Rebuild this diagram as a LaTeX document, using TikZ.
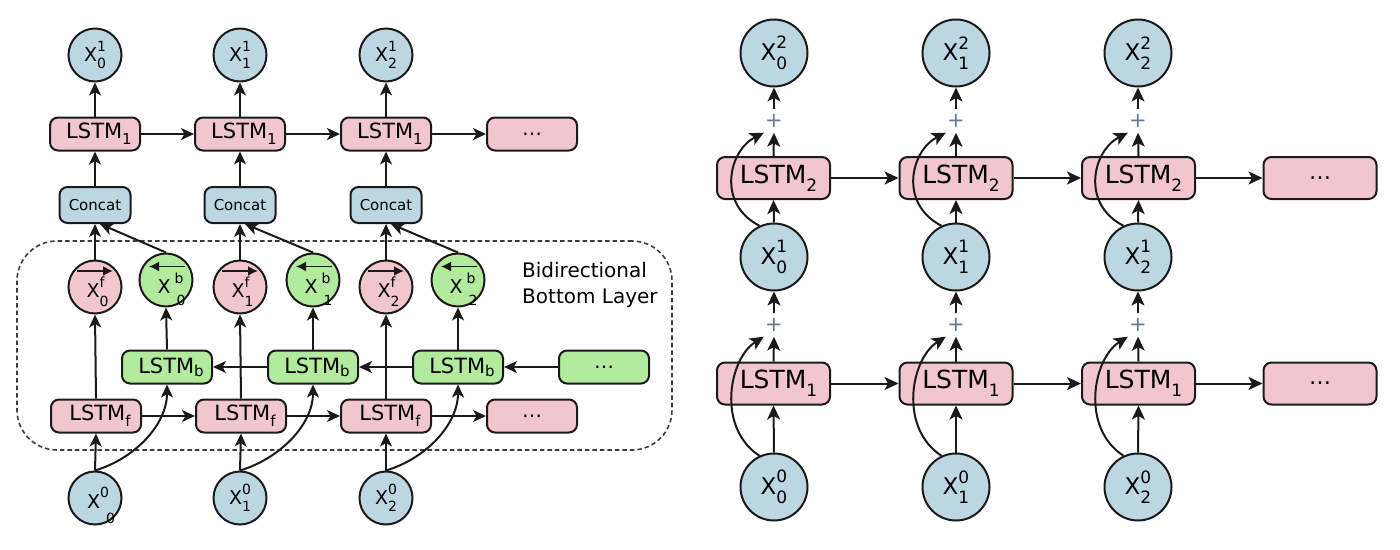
\documentclass[tikz,border=0pt]{standalone}
\usepackage{fontspec}
\setmainfont{DejaVu Sans}
\usetikzlibrary{arrows.meta}
\definecolor{pk}{HTML}{F2C6CE}
\definecolor{bl}{HTML}{BCD6E2}
\definecolor{gr}{HTML}{B3EB9E}
\definecolor{ln}{HTML}{1A1A1A}
\definecolor{plusc}{HTML}{66788A}
\newcommand\fsz[1]{\fontsize{#1pt}{#1pt}\selectfont}
\newcommand\XL[2]{X\rlap{\raisebox{10pt}{\fsz{14}#1}}\raisebox{-7pt}{\fsz{14}#2}}
\newcommand\XF[1]{X\rlap{\raisebox{9.5pt}{\fsz{14}f}}\raisebox{-9pt}{\fsz{14}#1}}
\newcommand\XB[1]{X\rlap{\kern4pt\raisebox{10pt}{\fsz{14}b}}\kern6pt\raisebox{-12pt}{\fsz{14}#1}}
\newcommand\XQ{X\rlap{\raisebox{11pt}{\fsz{14}0}}\kern6pt\raisebox{-15pt}{\fsz{14}0}}
\newcommand\XR[2]{X\rlap{\raisebox{11.5pt}{\fsz{17}#1}}\raisebox{-9pt}{\fsz{17}#2}}
\newcommand\LL[2]{\kern8pt LSTM\raisebox{-#2pt}{\fsz{15}#1}}
\newcommand\LR[1]{\kern10pt LSTM\raisebox{-8pt}{\fsz{17}#1}}
\begin{document}
\begin{tikzpicture}[x=1pt,y=-1pt,
 arr/.style={-{Stealth[length=13pt,width=12pt,inset=3.5pt]}, line width=2pt, draw=ln},
 rarr/.style={-{Stealth[length=14pt,width=13pt,inset=3.5pt]}, line width=2pt, draw=ln},
 box/.style={draw=ln, line width=2pt, rounded corners=8pt, inner sep=0pt},
 lbox/.style={box, minimum width=90pt, minimum height=33pt, font=\fsz{21}},
 rbox/.style={box, minimum width=113pt, minimum height=42pt, font=\fsz{25}, fill=pk},
 cir/.style={circle, draw=ln, line width=2pt, inner sep=0pt, minimum size=53pt, font=\fsz{19}},
 rcir/.style={circle, draw=ln, line width=2pt, inner sep=0pt, minimum size=67pt, font=\fsz{23}, fill=bl},
 lab/.style={anchor=base west, inner sep=0pt, font=\fsz{19}},
 overarr/.style={-{Latex[length=10pt,width=10pt]}, line width=1.7pt, draw=ln},
 plusn/.style={text=plusc, font=\fsz{21}, inner sep=0pt, minimum width=20pt, minimum height=23pt},
]
\useasboundingbox (0,0) rectangle (1400,549);

% ---------- left diagram ----------
\node[draw=ln!85, dash pattern=on 4.5pt off 3pt, line width=1.6pt, rounded corners=40pt,
      minimum width=655pt, minimum height=209pt, inner sep=0pt] (bidi) at (344.5,345.5) {};
\node[anchor=base west, inner sep=0pt, font=\fsz{20}] (bt1) at (522,277) {Bidirectional};
\node[anchor=base west, inner sep=0pt, font=\fsz{20}] (bt2) at (522,303) {Bottom Layer};

\node[cir, fill=bl] (t0) at (95,55) {\XL{1}{0}};
\node[cir, fill=bl] (t1) at (240,55) {\XL{1}{1}};
\node[cir, fill=bl] (t2) at (386,55) {\XL{1}{2}};

\node[lbox, fill=pk] (m0) at (95,134) {\LL{1}{6}};
\node[lbox, fill=pk] (m1) at (240,134) {\LL{1}{6}};
\node[lbox, fill=pk] (m2) at (386,134) {\LL{1}{6}};
\node[lbox, fill=pk, font=\fsz{20}] (md) at (532,134) {…};

\node[box, fill=bl, minimum width=71pt, minimum height=36pt, font=\fsz{15}] (c0) at (95,205) {Concat};
\node[box, fill=bl, minimum width=71pt, minimum height=36pt, font=\fsz{15}] (c1) at (240,205) {Concat};
\node[box, fill=bl, minimum width=71pt, minimum height=36pt, font=\fsz{15}] (c2) at (386,205) {Concat};

\node[cir, fill=pk] (f0) at (95,287) {};
\node[cir, fill=pk] (f1) at (240,287) {};
\node[cir, fill=pk] (f2) at (386,287) {};
\node[cir, fill=gr] (b0) at (166,280) {};
\node[cir, fill=gr] (b1) at (313,280) {};
\node[cir, fill=gr] (b2) at (458,280) {};

\node[lab] (f0t) at ([shift={(-8.5,10)}]f0.center) {\XF{0}};
\node[lab] (f1t) at ([shift={(-8.5,10)}]f1.center) {\XF{1}};
\node[lab] (f2t) at ([shift={(-8.5,10)}]f2.center) {\XF{2}};
\node[lab] (b0t) at ([shift={(-8.5,13)}]b0.center) {\XB{0}};
\node[lab] (b1t) at ([shift={(-8.5,13)}]b1.center) {\XB{1}};
\node[lab] (b2t) at ([shift={(-8.5,13)}]b2.center) {\XB{2}};

\foreach \n in {f0,f1,f2}
  \draw[overarr] ([shift={(-18,-16)}]\n.center) -- ([shift={(18,-16)}]\n.center);
\foreach \n in {b0,b1,b2}
  \draw[overarr] ([shift={(19,-13.5)}]\n.center) -- ([shift={(-17,-13.5)}]\n.center);

\node[lbox, fill=gr] (lb0) at (167,367) {\LL{b}{3}};
\node[lbox, fill=gr] (lb1) at (313,367) {\LL{b}{3}};
\node[lbox, fill=gr] (lb2) at (458,367) {\LL{b}{3}};
\node[lbox, fill=gr, font=\fsz{20}] (lbd) at (604,367) {…};

\node[lbox, fill=pk] (lf0) at (96,416) {\LL{f}{6}};
\node[lbox, fill=pk] (lf1) at (241,416) {\LL{f}{6}};
\node[lbox, fill=pk] (lf2) at (386,416) {\LL{f}{6}};
\node[lbox, fill=pk, font=\fsz{20}] (lfd) at (532,416) {…};

\node[cir, fill=bl] (x00) at (95,498) {};
\node[lab] (x00t) at ([shift={(-8,10)}]x00.center) {\XQ};
\node[cir, fill=bl] (x01) at (240,498) {\XL{0}{1}};
\node[cir, fill=bl] (x02) at (386,498) {\XL{0}{2}};

\foreach \i in {0,1,2}{
  \draw[arr] (x0\i.north) -- (lf\i.south);
  \draw[arr] (x0\i.north) .. controls +(40,-12) and +(0,40) .. (lb\i.south);
  \draw[arr] (lf\i.north) -- (f\i.south);
  \draw[arr] (lb\i.north) -- (b\i.south);
  \draw[arr] (f\i.north) -- (c\i.south);
  \draw[arr] (b\i.north) -- ([xshift=5pt]c\i.south);
  \draw[arr] (c\i.north) -- (m\i.south);
  \draw[arr] (m\i.north) -- (t\i.south);
}
\draw[arr] (lf0.east) -- (lf1.west);
\draw[arr] (lf1.east) -- (lf2.west);
\draw[arr] (lf2.east) -- (lfd.west);
\draw[arr] (lbd.west) -- (lb2.east);
\draw[arr] (lb2.west) -- (lb1.east);
\draw[arr] (lb1.west) -- (lb0.east);
\draw[arr] (m0.east) -- (m1.west);
\draw[arr] (m1.east) -- (m2.west);
\draw[arr] (m2.east) -- (md.west);

% ---------- right diagram ----------
\node[rcir] (r0) at (774,53) {\XR{2}{0}};
\node[rcir] (r1) at (956,53) {\XR{2}{1}};
\node[rcir] (r2) at (1138,53) {\XR{2}{2}};
\node[plusn] (p20) at (774,121) {+};
\node[plusn] (p21) at (956,121) {+};
\node[plusn] (p22) at (1138,121) {+};
\node[rbox] (n20) at (773.5,178) {\LR{2}};
\node[rbox] (n21) at (956,178) {\LR{2}};
\node[rbox] (n22) at (1138.5,178) {\LR{2}};
\node[rbox, font=\fsz{22}] (n2d) at (1320,178) {…};
\node[rcir] (s0) at (774,257) {\XR{1}{0}};
\node[rcir] (s1) at (956,257) {\XR{1}{1}};
\node[rcir] (s2) at (1138,257) {\XR{1}{2}};
\node[plusn] (p10) at (774,325) {+};
\node[plusn] (p11) at (956,325) {+};
\node[plusn] (p12) at (1138,325) {+};
\node[rbox] (n10) at (773.5,383.5) {\LR{1}};
\node[rbox] (n11) at (956,383.5) {\LR{1}};
\node[rbox] (n12) at (1138.5,383.5) {\LR{1}};
\node[rbox, font=\fsz{22}] (n1d) at (1320,383.5) {…};
\node[rcir] (u0) at (774,487) {\XR{0}{0}};
\node[rcir] (u1) at (956,487) {\XR{0}{1}};
\node[rcir] (u2) at (1138,487) {\XR{0}{2}};

\foreach \i in {0,1,2}{
  \draw[rarr] (u\i.north) -- (n1\i.south);
  \draw[rarr] (n1\i.north) -- (p1\i.south);
  \draw[rarr] (p1\i.north) -- (s\i.south);
  \draw[rarr] (s\i.north) -- (n2\i.south);
  \draw[rarr] (n2\i.north) -- (p2\i.south);
  \draw[rarr] (p2\i.north) -- (r\i.south);
  \draw[rarr] (u\i.115) .. controls +(-43,-28) and +(-35,22) .. (p1\i.south west);
  \draw[rarr] (s\i.115) .. controls +(-43,-22) and +(-35,18) .. (p2\i.south west);
}
\draw[rarr] (n10.east) -- (n11.west);
\draw[rarr] (n11.east) -- (n12.west);
\draw[rarr] (n12.east) -- (n1d.west);
\draw[rarr] (n20.east) -- (n21.west);
\draw[rarr] (n21.east) -- (n22.west);
\draw[rarr] (n22.east) -- (n2d.west);
\end{tikzpicture}
\end{document}
